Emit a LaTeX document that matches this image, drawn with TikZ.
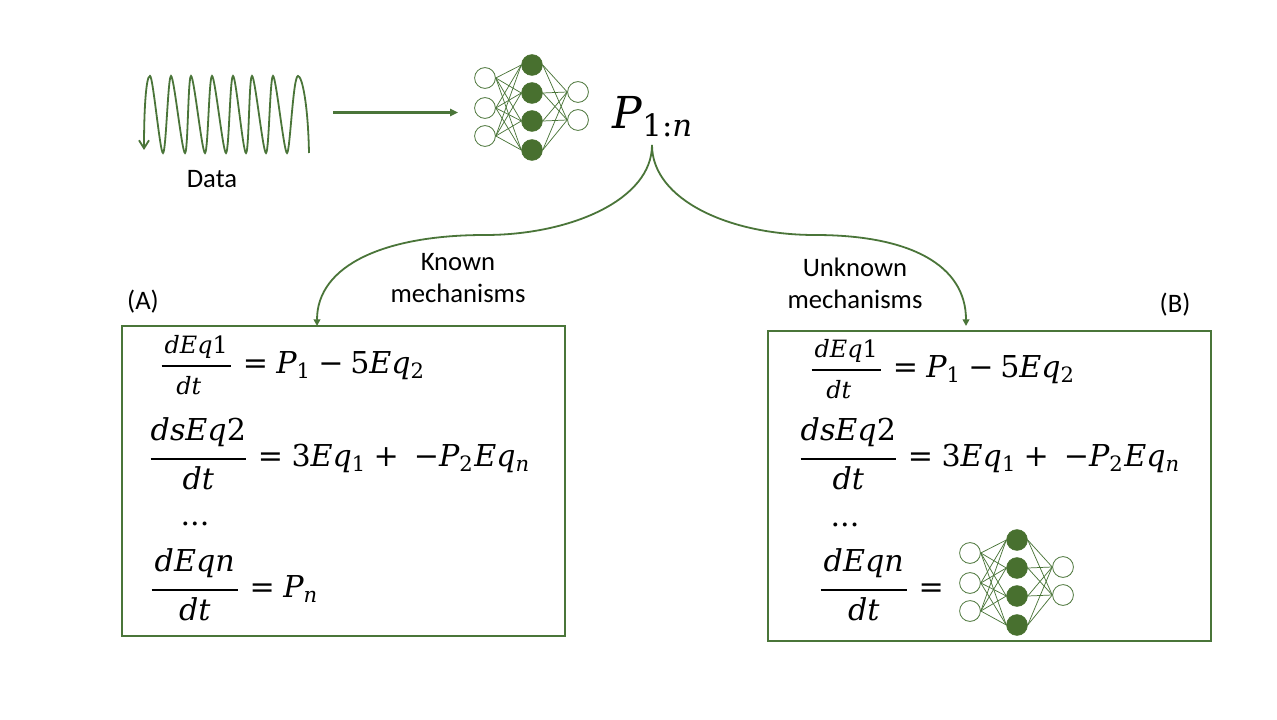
\documentclass[tikz,border=0pt]{standalone}
\usepackage{fontspec}
\usepackage{amsmath}
\setmainfont{Carlito}
\newfontfamily\mifam[NFSSFamily=mif]{DejaVu Serif}
\DeclareSymbolFont{mil}{TU}{mif}{m}{it}
\DeclareSymbolFont{milu}{TU}{mif}{m}{n}
\AtBeginDocument{%
  \Umathcode`d=7 \symmil `d
  \Umathcode`E=7 \symmil `E
  \Umathcode`q=7 \symmil `q
  \Umathcode`s=7 \symmil `s
  \Umathcode`t=7 \symmil `t
  \Umathcode`n=7 \symmil `n
  \Umathcode`P=7 \symmil `P
  \Umathcode`1=7 \symmilu `1
  \Umathcode`2=7 \symmilu `2
  \Umathcode`3=7 \symmilu `3
  \Umathcode`5=7 \symmilu `5
  \Umathcode`:=6 \symmilu `:
  \Umathcode`.=0 \symmilu `.
  \Umathcode`+=2 \symmilu `+
  \Umathcode`-=2 \symmilu "2212
  \Umathcode`==3 \symmilu `=
}
\usetikzlibrary{arrows.meta}
\definecolor{lg}{HTML}{4A7539}
\definecolor{lgd}{HTML}{48702F}
\tikzset{
  lbl/.style={font=\fontsize{20}{24}\selectfont,align=center,text=black,inner sep=0pt},
  eqn/.style={scale=2.26,transform shape,anchor=base west,inner sep=0pt,text=black},
  bigm/.style={scale=3.3,transform shape,inner sep=0pt,text=black},
  box/.style={draw=lg,line width=1.5pt,minimum width=332pt,minimum height=232.5pt,inner sep=0pt},
  inn/.style={circle,draw=lg,fill=white,line width=.6pt,minimum size=15.6pt,inner sep=0pt},
  hid/.style={circle,draw=lgd,fill=lgd,line width=.5pt,minimum size=15.6pt,inner sep=0pt},
  nnedge/.style={draw=lg,line width=.55pt},
  curve/.style={draw=lg,line width=1.35pt},
  sig/.style={draw=lg,line width=1.35pt}
}
\newcommand{\nnet}[3]{%
  \begin{scope}[shift={(#2,#3)}]
    \node[inn] (#1i1) at (485,78) {};
    \node[inn] (#1i2) at (485,108) {};
    \node[inn] (#1i3) at (485,136) {};
    \node[hid] (#1h1) at (532,65) {};
    \node[hid] (#1h2) at (532,93) {};
    \node[hid] (#1h3) at (532,121) {};
    \node[hid] (#1h4) at (532,150) {};
    \node[inn] (#1o1) at (578,92) {};
    \node[inn] (#1o2) at (578,120) {};
    \foreach \a in {1,2,3} \foreach \b in {1,2,3,4}
      \draw[nnedge] (#1i\a.east) -- (#1h\b.west);
    \foreach \a in {1,2,3,4} \foreach \b in {1,2}
      \draw[nnedge] (#1h\a.east) -- (#1o\b.west);
  \end{scope}}
\newcommand{\bigfr}[2]{\genfrac{}{}{.65pt}{0}{\rule[-3.8pt]{0pt}{3.8pt}#1}{\rule{0pt}{8pt}#2}}
\newcommand{\smfr}[2]{\genfrac{}{}{.65pt}{0}{\hspace{1pt}\scalebox{1.13}{$\scriptstyle #1$}\hspace{1pt}}{\scalebox{1.13}{$\scriptstyle #2$}}}
\newcommand{\eqa}{\smfr{dEq1}{dt}=P_1-5Eq_2}
\newcommand{\eqb}{\bigfr{dsEq2}{dt}=3Eq_1+\;-P_2Eq_n}
\newcommand{\eqc}{\bigfr{\hspace{1pt}dEqn\hspace{1pt}}{dt}=}
\begin{document}
\begin{tikzpicture}[x=.75pt,y=-.75pt]
\useasboundingbox[fill=white] (0,0) rectangle (1277,720);
% signal
\coordinate (sigstart) at (309,153);
\coordinate (sigend) at (144,150);
\draw[sig,-{Straight Barb[length=6pt,width=7.5pt]}] (sigstart)
  .. controls +(-1,-50) and +(4,0) .. (298,76)
  .. controls +(-5,0) and +(3,0) .. (287,153)
  .. controls +(-3,0) and +(3,0) .. (273,76)
  .. controls +(-3,0) and +(3,0) .. (266,153)
  .. controls +(-3,0) and +(3,0) .. (252,76)
  .. controls +(-3,0) and +(3,0) .. (246,153)
  .. controls +(-3,0) and +(3,0) .. (233,76)
  .. controls +(-3,0) and +(3,0) .. (226,153)
  .. controls +(-3,0) and +(3,0) .. (212,76)
  .. controls +(-3,0) and +(3,0) .. (205,153)
  .. controls +(-3,0) and +(3,0) .. (191,76)
  .. controls +(-3,0) and +(3,0) .. (185,153)
  .. controls +(-3,0) and +(3,0) .. (171,76)
  .. controls +(-3,0) and +(3,0) .. (163,153)
  .. controls +(-3,0) and +(3,0) .. (150,76)
  .. controls +(-4,0) and +(0,-40) .. (sigend);
\node[lbl] (data) at (212,179) {Data};
\coordinate (arrs) at (333,112.5);
\coordinate (arre) at (458,112.5);
\draw[lg,line width=1.8pt,-{Triangle[length=6pt,width=5.5pt]}] (arrs) -- (arre);
\nnet{t}{0}{0}
\node[bigm,anchor=base west] (pn) at (612,129) {$P_{1:n}$};
% boxes
\node[box] (boxA) at (343.5,481) {};
\node[box] (boxB) at (989.5,485.5) {};
% curves
\coordinate (src) at (652,145);
\coordinate (ka) at (317,326);
\coordinate (kb) at (966,326);
\draw[curve,-{Triangle[length=5pt,width=5pt]}] (src) .. controls (652,200) and (570,235) .. (485,235) .. controls (385,235) and (317,265) .. (ka);
\draw[curve,-{Triangle[length=5pt,width=5pt]}] (src) .. controls (652,200) and (730,235) .. (815,235) .. controls (910,235) and (966,265) .. (kb);
\node[lbl] (known) at (458,278) {Known\\mechanisms};
\node[lbl] (unknown) at (855,283) {Unknown\\mechanisms};
\node[lbl] (la) at (143,302) {(A)};
\node[lbl] (lb) at (1175,305) {(B)};
% box A equations (base = fraction bar + 7.5 px)
\node[eqn] (a1) at (157.5,373.5) {$\eqa$};
\node[eqn] (a2) at (146.5,466.5) {$\eqb$};
\node[eqn] (ad) at (180,525) {$...$};
\node[eqn] (a3) at (147.5,597.5) {$\eqc P_n$};
% box B equations
\node[eqn] (b1) at (807.5,377.5) {$\eqa$};
\node[eqn] (b2) at (796.5,466.5) {$\eqb$};
\node[eqn] (bd) at (830,526) {$...$};
\node[eqn] (b3) at (816.5,597.5) {$\eqc$};
\nnet{n}{485}{475}
\end{tikzpicture}
\end{document}
